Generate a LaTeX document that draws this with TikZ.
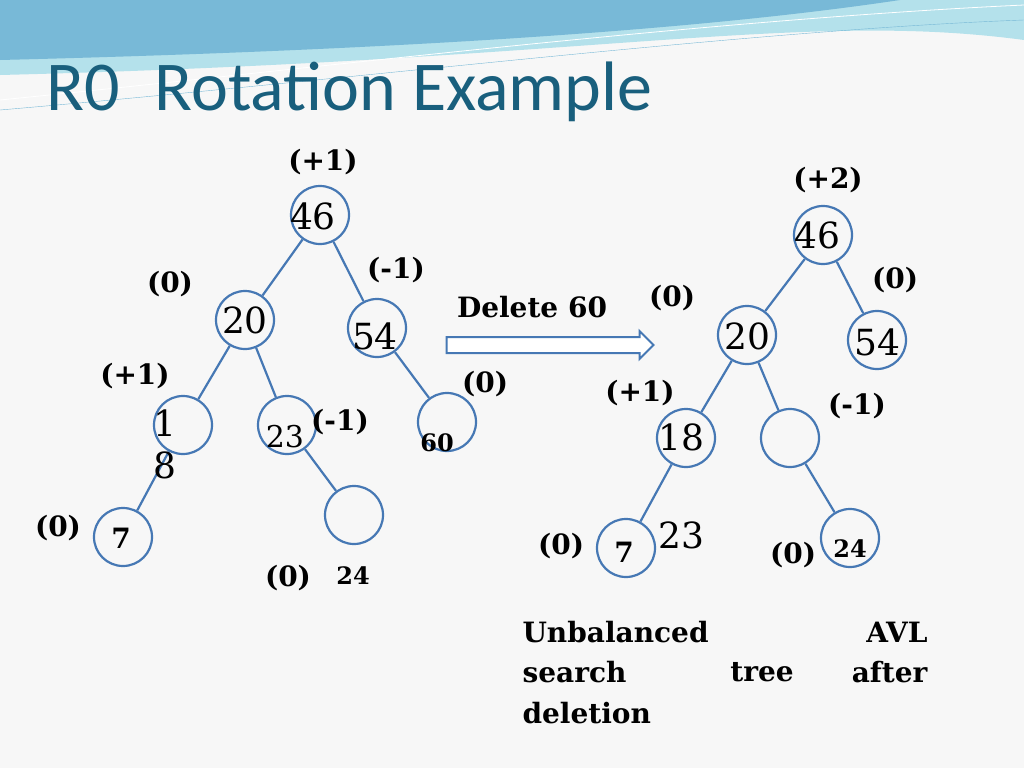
\documentclass[tikz,border=0pt]{standalone}
\usepackage{fontspec}
\setmainfont{DejaVu Serif}
\newfontfamily\titlefont{Carlito}
\usetikzlibrary{shapes.arrows}
\definecolor{edgeblue}{RGB}{70,120,180}
\definecolor{titleteal}{RGB}{25,95,125}
\definecolor{wavea}{RGB}{120,185,215}
\definecolor{waveb}{RGB}{180,225,235}
\tikzstyle{vertex}=[circle,draw=edgeblue,line width=2.2pt,minimum size=58pt,inner sep=0pt]
\tikzstyle{bal}=[font=\fontsize{28}{28}\selectfont\bfseries]
\tikzstyle{key}=[font=\fontsize{36}{36}\selectfont]
\tikzstyle{link}=[edgeblue,line width=2.2pt]

\begin{document}
\begin{tikzpicture}[x=1pt,y=-1pt]
      \useasboundingbox (0,0) rectangle (1024,768);
      \fill[gray!6] (0,0) rectangle (1024,768);
      % header waves
      \fill[waveb] (0,0) -- (1024,0) -- (1024,40) .. controls (800,10) and (600,60) .. (0,75) -- cycle;
      \fill[wavea] (0,0) -- (900,0) .. controls (700,30) and (400,50) .. (0,60) -- cycle;
      \draw[white,thick] (0,100) .. controls (300,70) and (700,20) .. (1024,5);
      \draw[wavea,thin] (0,110) .. controls (350,80) and (750,30) .. (1024,20);
      \node[anchor=base west,inner sep=0pt,text=titleteal,font=\titlefont\fontsize{70}{70}\selectfont] (title) at (46,110) {R0\hspace{0.5em}Rotation Example};

      \begin{scope}
        \node[vertex] (a46) at (320,215) {};
        \node[vertex] (a20) at (245,320) {};
        \node[vertex] (a54) at (377,328) {};
        \node[vertex] (a18) at (183,425) {};
        \node[vertex] (a23) at (287,425) {};
        \node[vertex] (a60) at (447,422) {};
        \node[vertex] (a7) at (123,537) {};
        \node[vertex] (a24) at (354,515) {};
        \draw[link] (a46) -- (a20);
        \draw[link] (a46) -- (a54);
        \draw[link] (a20) -- (a18);
        \draw[link] (a20) -- (a23);
        \draw[link] (a54) -- (a60);
        \draw[link] (a18) -- (a7);
        \draw[link] (a23) -- (a24);
        \node[key] (k46) at (313,216) {46};
        \node[key] (k20) at (245,320) {20};
        \node[key] (k54) at (375,336) {54};
        \node[key] (k1) at (165,423) {1};
        \node[key] (k8) at (165,465) {8};
        \node[key,font=\fontsize{30}{30}\selectfont] (k23) at (285,437) {23};
        \node[bal,font=\fontsize{24}{24}\selectfont\bfseries] (k60) at (437,443) {60};
        \node[bal] (k7) at (121,538) {7};
        \node[bal,font=\fontsize{24}{24}\selectfont\bfseries] (k24) at (353,576) {24};
        \node[bal] (b46) at (323,162) {(+1)};
        \node[bal] (b54) at (396,270) {(-1)};
        \node[bal] (b20) at (170,284) {(0)};
        \node[bal] (b18) at (135,376) {(+1)};
        \node[bal] (b60) at (485,384) {(0)};
        \node[bal] (b23) at (340,422) {(-1)};
        \node[bal] (b7) at (58,528) {(0)};
        \node[bal] (b24) at (288,578) {(0)};
      \end{scope}

      \node[single arrow,draw=edgeblue,fill=white,line width=2pt,minimum width=28pt,single arrow head extend=3pt,minimum height=207pt,inner sep=3pt] (arr) at (546,345) {};
      \node[bal] (del) at (532,307) {Delete 60};

      \begin{scope}
        \node[vertex] (b46n) at (823,235) {};
        \node[vertex] (b20n) at (747,335) {};
        \node[vertex] (b54n) at (877,340) {};
        \node[vertex] (b18n) at (686,438) {};
        \node[vertex] (bemp) at (790,438) {};
        \node[vertex] (b7n) at (626,548) {};
        \node[vertex] (b24n) at (850,538) {};
        \draw[link] (b46n) -- (b20n);
        \draw[link] (b46n) -- (b54n);
        \draw[link] (b20n) -- (b18n);
        \draw[link] (b20n) -- (bemp);
        \draw[link] (b18n) -- (b7n);
        \draw[link] (bemp) -- (b24n);
        \node[key] (m46) at (817,235) {46};
        \node[key] (m20) at (747,336) {20};
        \node[key] (m54) at (877,342) {54};
        \node[key] (m18) at (681,437) {18};
        \node[key] (m23) at (681,535) {23};
        \node[bal] (m7) at (624,552) {7};
        \node[bal,font=\fontsize{24}{24}\selectfont\bfseries] (m24) at (850,549) {24};
        \node[bal] (c46) at (828,180) {(+2)};
        \node[bal] (c54) at (895,280) {(0)};
        \node[bal] (c20) at (672,298) {(0)};
        \node[bal] (c18) at (640,393) {(+1)};
        \node[bal] (cemp) at (857,406) {(-1)};
        \node[bal] (c7) at (561,546) {(0)};
        \node[bal] (c24) at (793,555) {(0)};
      \end{scope}

      \node[bal,anchor=west] (l1a) at (519,632) {Unbalanced};
      \node[bal,anchor=east] (l1b) at (931,632) {AVL};
      \node[bal,anchor=west] (l2a) at (519,672) {search};
      \node[bal] (l2b) at (762,672) {tree};
      \node[bal,anchor=east] (l2c) at (931,672) {after};
      \node[bal,anchor=west] (l3a) at (519,713) {deletion};
\end{tikzpicture}
\end{document}
